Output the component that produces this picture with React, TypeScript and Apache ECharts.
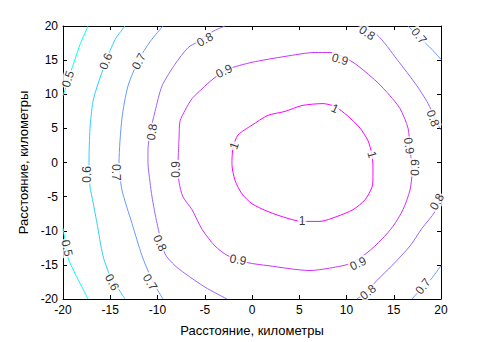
import React, { useEffect, useRef } from "react";
import * as echarts from "echarts";

// contour levels and their colours (MATLAB "cool" colormap)
const levels = [0.5, 0.6, 0.7, 0.8, 0.9, 1];
const levelColors = ["#00ffff", "#33ccff", "#6699ff", "#9966ff", "#cc33ff", "#ff00ff"];

// tick values
const ticks = [-20, -15, -10, -5, 0, 5, 10, 15, 20];

// contour polylines [x km, y km]
const c05Top = [[-17.35, 20], [-18.2, 17.27], [-18.73, 15.11], [-19.26, 12.95], [-19.68, 11.08], [-20, 9.78]];
const c05Bottom = [[-20, -9.64], [-19.68, -12.23], [-19.47, -13.96], [-18.73, -16.26], [-17.99, -18.27], [-17.35, -20]];
const c06 = [[-13.44, 20], [-14.5, 17.99], [-15.45, 14.82], [-16.3, 11.51], [-16.83, 8.92], [-17.14, 5.04], [-17.25, 0], [-17.14, -3.6], [-16.93, -5.04], [-16.4, -8.92], [-15.77, -13.67], [-15.03, -16.55], [-14.18, -18.42], [-13.44, -20]];
const c07Left = [[-9.42, 20], [-10.79, 17.7], [-11.96, 15.11], [-13.12, 11.22], [-13.76, 6.47], [-14.07, 0], [-13.76, -4.03], [-12.7, -8.92], [-11.64, -13.67], [-10.79, -16.55], [-10.16, -18.27], [-9.42, -20]];
const c07RightTop = [[16.51, 20], [17.78, 18.27], [19.05, 16.55], [20, 15.11]];
const c07RightBottom = [[20, -15.11], [18.84, -17.27], [17.78, -18.71], [16.93, -20]];
const c08Left = [[-2.86, 20], [-4.23, 19.14], [-5.71, 17.7], [-6.77, 16.83], [-8.15, 14.39], [-9.52, 11.22], [-10.26, 7.48], [-10.79, 4.32], [-11.01, 1.73], [-11.01, 0], [-10.79, -2.88], [-10.58, -5.04], [-10.05, -8.92], [-9.21, -13.38], [-8.15, -15.11], [-7.09, -16.26], [-4.97, -18.27], [-2.65, -20]];
const c08RightTop = [[11.22, 20], [13.23, 18.71], [15.34, 15.11], [17.46, 11.22], [18.52, 8.92], [19.05, 7.48], [19.58, 5.76], [20, 4.75]];
const c08RightBottom = [[20, -4.75], [19.37, -7.19], [17.99, -9.64], [16.72, -12.23], [14.81, -15.11], [13.23, -17.27], [12.28, -18.71], [11.11, -20]];
const c09 = [[-7.83, 0], [-7.72, 3.6], [-7.62, 6.04], [-7.09, 7.63], [-6.35, 9.35], [-5.29, 10.79], [-4.13, 12.23], [-2.54, 13.67], [0, 14.68], [3.49, 15.54], [6.67, 16.12], [8.25, 16.12], [10.69, 14.68], [13.23, 11.8], [14.6, 9.78], [15.66, 7.91], [16.51, 5.04], [16.72, 2.16], [16.93, -1.44], [16.72, -4.03], [15.98, -6.91], [14.92, -9.35], [13.76, -11.22], [12.17, -13.24], [10.37, -14.82], [7.94, -15.54], [6.14, -15.83], [1.69, -15.11], [-0.42, -14.68], [-2.54, -13.67], [-3.92, -12.23], [-5.29, -9.78], [-6.35, -6.91], [-7.3, -5.04], [-7.72, -2.88], [-7.83, 0]];
const c10 = [[-2.12, 0.29], [-2.01, 2.16], [-1.48, 4.03], [0, 5.47], [1.69, 6.91], [3.49, 7.48], [5.29, 8.35], [7.51, 8.63], [8.78, 8.2], [10.05, 6.91], [11.43, 5.04], [12.28, 3.17], [12.7, 1.15], [12.8, -0.72], [12.8, -2.16], [12.7, -3.6], [11.96, -5.47], [10.69, -6.91], [8.99, -7.91], [7.2, -8.63], [5.29, -8.63], [3.81, -8.2], [1.69, -7.19], [0, -6.04], [-1.06, -4.6], [-1.8, -2.59], [-2.12, -0.29], [-2.12, 0.29]];

const contourLines = [
  { level: 0.5, pts: c05Top },
  { level: 0.5, pts: c05Bottom },
  { level: 0.6, pts: c06 },
  { level: 0.7, pts: c07Left },
  { level: 0.7, pts: c07RightTop },
  { level: 0.7, pts: c07RightBottom },
  { level: 0.8, pts: c08Left },
  { level: 0.8, pts: c08RightTop },
  { level: 0.8, pts: c08RightBottom },
  { level: 0.9, pts: c09 },
  { level: 1, pts: c10 },
];

// contour labels: [x, y, level]
const labelPoints = [
  [-19.47, 12.23, 0.5], [-19.58, -12.52, 0.5],
  [-15.45, 14.82, 0.6], [-17.46, -1.73, 0.6], [-14.81, -17.55, 0.6],
  [-11.96, 14.82, 0.7], [-14.39, -1.44, 0.7], [-10.79, -17.55, 0.7],
  [17.67, 18.56, 0.7], [18.1, -18.13, 0.7],
  [-4.97, 17.99, 0.8], [-10.58, 4.46, 0.8], [-9.74, -11.8, 0.8],
  [12.17, 18.99, 0.8], [19.15, 6.47, 0.8], [19.58, -5.76, 0.8], [12.28, -18.99, 0.8],
  [-2.96, 13.38, 0.9], [-8.04, -1.0, 0.9], [-1.48, -14.24, 0.9], [11.22, -14.82, 0.9],
  [16.61, 2.45, 0.9], [17.25, -0.72, 0.9], [9.31, 15.11, 0.9],
  [-1.9, 2.45, 1], [8.78, 7.91, 1], [12.7, 1.15, 1], [5.29, -8.63, 1],
];
// rotation of each label (degrees, counter-clockwise)
const labelAngles = [
  72, -78,
  68, 90, -62,
  62, -90, -58,
  -50, 52,
  30, 82, -65,
  -35, -70, 60, 38,
  28, 90, -10, 25,
  -82, 88, -15,
  70, -25, -75, 0,
];

const xTitle = "Расстояние, километры";
const yTitle = "Расстояние, километры";

const FONT = "'Liberation Sans', Arial, Helvetica, sans-serif";

export default function App() {
  const ref = useRef<HTMLDivElement>(null);
  useEffect(() => {
    if (!ref.current) return;
    const chart = echarts.init(ref.current, undefined, { renderer: "svg" });
    const colorOf = (lv: number) => levelColors[levels.indexOf(lv)];
    const axisCommon = {
      type: "value" as const,
      min: -20,
      max: 20,
      interval: 5,
      splitLine: { show: false },
      axisLine: { show: true, onZero: false, lineStyle: { color: "#000", width: 1 } },
      axisTick: { show: true, inside: true, length: 4, lineStyle: { color: "#000" } },
    };
    const lineSeries = contourLines.map((c) => ({
      type: "line" as const,
      data: c.pts,
      showSymbol: false,
      symbol: "none",
      smooth: 0.25,
      lineStyle: { color: colorOf(c.level), width: 1 },
      itemStyle: { color: colorOf(c.level) },
      silent: true,
      z: 2,
    }));
    const labelSeries = {
      type: "scatter" as const,
      symbolSize: 0,
      silent: true,
      z: 5,
      data: labelPoints.map((p, i) => ({
        value: [p[0], p[1]],
        label: {
          show: true,
          position: "inside",
          rotate: labelAngles[i],
          formatter: String(p[2]),
          color: "#000",
          fontSize: 12,
          fontFamily: FONT,
          backgroundColor: "#fff",
          padding: [0, 1],
        },
      })),
    };
    const tickLabel = {
      color: "#000",
      fontSize: 12,
      fontFamily: FONT,
      margin: 5,
      formatter: (v: number) => (ticks.includes(v) ? String(v) : ""),
    };
    chart.setOption({
      animation: false,
      backgroundColor: "#fff",
      grid: { left: 63, right: 46, top: 26, bottom: 38, show: false },
      xAxis: [
        {
          ...axisCommon,
          position: "bottom",
          name: xTitle,
          nameLocation: "middle",
          nameGap: 25,
          nameTextStyle: { color: "#000", fontSize: 13, fontFamily: FONT },
          axisLabel: tickLabel,
        },
        { ...axisCommon, position: "top", axisLabel: { show: false } },
      ],
      yAxis: [
        {
          ...axisCommon,
          position: "left",
          name: yTitle,
          nameLocation: "middle",
          nameGap: 33,
          nameRotate: 90,
          nameTextStyle: { color: "#000", fontSize: 13, fontFamily: FONT },
          axisLabel: tickLabel,
        },
        { ...axisCommon, position: "right", axisLabel: { show: false } },
      ],
      series: [...lineSeries, labelSeries],
    });
    return () => chart.dispose();
  }, []);
  return (
    <div
      ref={ref}
      style={{ position: "fixed", left: 0, top: 0, width: 487, height: 342, background: "#fff" }}
    />
  );
}
